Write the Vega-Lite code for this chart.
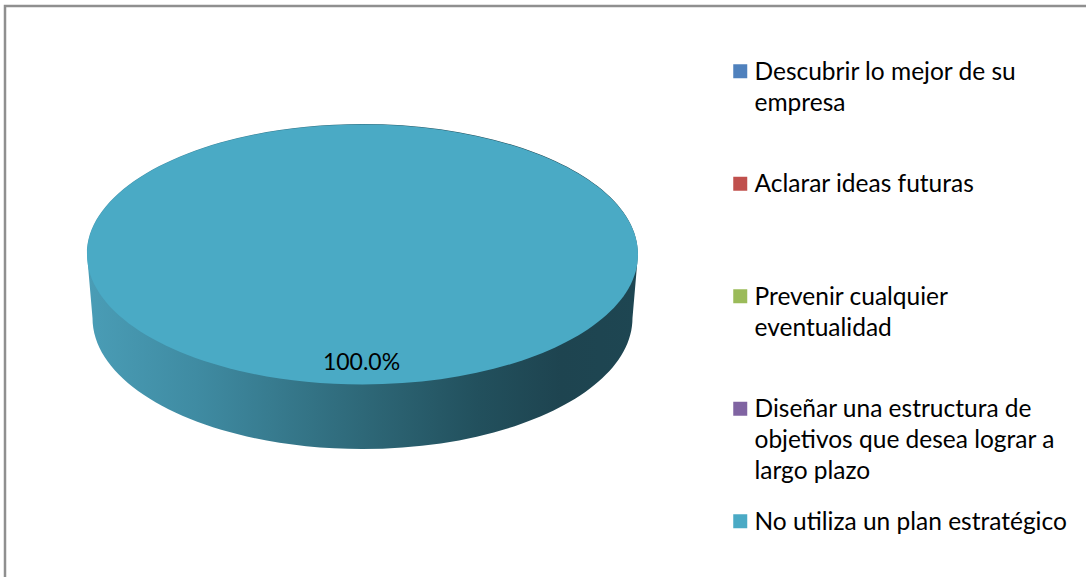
{
  "$schema": "https://vega.github.io/schema/vega-lite/v6.json",
  "width": 1081,
  "height": 571,
  "autosize": {"type": "none"},
  "padding": {"left": 5, "top": 6, "right": 0, "bottom": 0},
  "background": "white",
  "view": {"stroke": "#8f8f8f", "strokeWidth": 2.5, "strokeDash": [1081, 1652, 571], "fill": "white"},
  "config": {
    "font": "Lato"
  },
  "data": {
    "values": [
      {"opcion": "Descubrir lo mejor de su empresa", "porcentaje": 0},
      {"opcion": "Aclarar ideas futuras", "porcentaje": 0},
      {"opcion": "Prevenir cualquier eventualidad", "porcentaje": 0},
      {"opcion": "Diseñar una estructura de objetivos que desea lograr a largo plazo", "porcentaje": 0},
      {"opcion": "No utiliza un plan estratégico", "porcentaje": 1}
    ]
  },
  "transform": [{"filter": "datum.porcentaje > 0"}],
  "layer": [
    {
      "mark": {
        "type": "point",
        "shape": "M-1,0 L-0.98,0.2323 C-0.98,0.4949 -0.5413,0.7078 0,0.7078 C0.5413,0.7078 0.98,0.4949 0.98,0.2323 L1,0 C1,-0.2606 0.5523,-0.4719 0,-0.4719 C-0.5523,-0.4719 -1,-0.2606 -1,0 Z",
        "size": 303601,
        "filled": true,
        "opacity": 1,
        "strokeWidth": 0,
        "xOffset": -183,
        "yOffset": -37.5,
        "fill": {
          "gradient": "linear",
          "x1": 0, "y1": 0, "x2": 1, "y2": 0,
          "stops": [
            {"offset": 0, "color": "#4a9db6"},
            {"offset": 0.2, "color": "#3f8ba2"},
            {"offset": 0.5, "color": "#2e6878"},
            {"offset": 0.71, "color": "#22505d"},
            {"offset": 0.86, "color": "#1e4450"},
            {"offset": 1, "color": "#1e4652"}
          ]
        }
      },
      "encoding": {}
    },
    {
      "mark": {
        "type": "point",
        "shape": "M-1,0 C-1,-0.2606 -0.5523,-0.4719 0,-0.4719 C0.5523,-0.4719 1,-0.2606 1,0 C1,0.2606 0.5523,0.4719 0,0.4719 C-0.5523,0.4719 -1,0.2606 -1,0 Z",
        "size": 303601,
        "filled": true,
        "opacity": 1,
        "strokeWidth": 0,
        "xOffset": -183,
        "yOffset": -37
      },
      "encoding": {
        "color": {
          "field": "opcion",
          "type": "nominal",
          "scale": {
            "domain": [
              "Descubrir lo mejor de su empresa",
              "Aclarar ideas futuras",
              "Prevenir cualquier eventualidad",
              "Diseñar una estructura de objetivos que desea lograr a largo plazo",
              "No utiliza un plan estratégico"
            ],
            "range": ["#4f81bd", "#c0504d", "#9bbb59", "#8064a2", "#4aaac5"]
          },
          "legend": {
            "title": null,
            "orient": "none",
            "direction": "vertical",
            "legendX": 723,
            "legendY": 53,
            "padding": 0,
            "symbolType": "square",
            "symbolSize": 196,
            "symbolStrokeWidth": 0,
            "symbolOpacity": 1,
            "labelFont": "Lato",
            "labelFontSize": 24.5,
            "labelColor": "#000000",
            "labelLimit": 400,
            "labelOffset": 2,
            "labelBaseline": "alphabetic",
            "gridAlign": "all",
            "rowPadding": 24.5,
            "labelExpr": "datum.label == 'Descubrir lo mejor de su empresa' ? ['Descubrir lo mejor de su', 'empresa'] : datum.label == 'Prevenir cualquier eventualidad' ? ['Prevenir cualquier', 'eventualidad'] : indexof(datum.label, 'Diseñar') == 0 ? ['Diseñar una estructura de', 'objetivos que desea lograr a', 'largo plazo'] : datum.label",
            "encode": {
              "labels": {"update": {"lineHeight": {"value": 31}, "dy": {"value": 8.5}}}
            }
          }
        }
      }
    },
    {
      "mark": {
        "type": "text",
        "font": "Lato",
        "fontSize": 23,
        "color": "#000000",
        "align": "center",
        "baseline": "alphabetic",
        "dx": -184,
        "dy": 78
      },
      "encoding": {
        "text": {"field": "porcentaje", "type": "quantitative", "format": ".1%"}
      }
    }
  ]
}
